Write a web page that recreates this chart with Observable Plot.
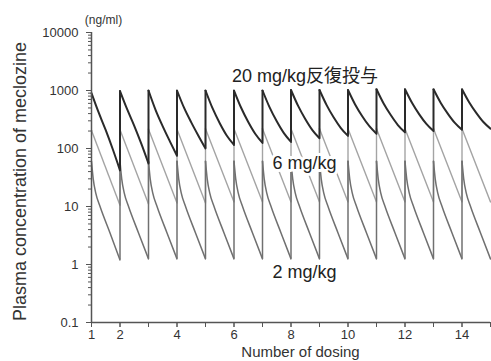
<!DOCTYPE html>
<html><head><meta charset="utf-8">
<script src="https://cdn.jsdelivr.net/npm/d3@7"></script>
<script src="https://cdn.jsdelivr.net/npm/@observablehq/plot@0.6"></script>
<style>
html,body{margin:0;padding:0;background:#fff;}
svg{display:block;}
</style>
</head><body>
<div id="chart"></div>
<script>
// Dosing times (number of dosing)
const doses = [1,2,3,4,5,6,7,8,9,10,11,12,13,14];
const xTickLabels = [1,2,4,6,8,10,12,14];
const xTickMarks = [1,2,3,4,5,6,7,8,9,10,11,12,13,14,15];
const yTickLabels = [0.1,1,10,100,1000,10000];
const yMinorSteps = [2,3,4,5,6,7,8,9];

// 20 mg/kg (ng/ml): peak at dose, then values at +0.25, +0.5, +0.75, trough at next dose
const offsets20 = [0, 0.25, 0.5, 0.75, 1];
const peak20   = [900, 980, 1000, 1000, 1000, 1000, 1000, 1020, 1020, 1020, 1050, 1050, 1050, 1050];
const q1_20    = [418, 476, 460, 500, 490, 504, 511, 542, 560, 575, 597, 607, 617, 627];
const q2_20    = [207, 246, 241, 282, 273, 287, 294, 323, 342, 360, 377, 388, 400, 411];
const q3_20    = [96, 120, 133, 166, 166, 178, 184, 208, 225, 242, 254, 265, 276, 286];
const trough20 = [42, 55, 75, 100, 115, 125, 130, 150, 165, 180, 190, 200, 210, 220];

// 6 mg/kg: log-linear decay from peak to trough
const offsets6 = [0, 1];
const peak6   = [205, 210, 215, 215, 218, 218, 220, 220, 220, 220, 220, 220, 220, 220];
const trough6 = [10.5, 11, 11.5, 11.5, 12, 12, 12, 12, 12, 12, 12, 12, 12, 12];

// 2 mg/kg: fast distribution phase then elimination
const offsets2 = [0, 0.06, 0.15, 0.3, 0.65, 1];
const peak2   = [60, 60, 60, 60, 60, 60, 60, 60, 60, 60, 60, 60, 60, 60];
const fastA2  = [30, 30, 30, 30, 30, 30, 30, 30, 30, 30, 30, 30, 30, 30];
const fastB2  = [17, 17, 17, 17, 17, 17, 17, 17, 17, 17, 17, 17, 17, 17];
const slowA2  = [10, 10, 10, 10, 10, 10, 10, 10, 10, 10, 10, 10, 10, 10];
const slowB2  = [3.5, 3.5, 3.5, 3.5, 3.5, 3.5, 3.5, 3.5, 3.5, 3.5, 3.5, 3.5, 3.5, 3.5];
const trough2 = [1.2, 1.25, 1.25, 1.25, 1.25, 1.25, 1.25, 1.25, 1.25, 1.25, 1.25, 1.25, 1.25, 1.25];

// annotations
const labels = [
  {text: "20 mg/kg反復投与", x: 8.49, y: 1743},
  {text: "6 mg/kg", x: 8.47, y: 55},
  {text: "2 mg/kg", x: 8.47, y: 0.728}
];

function cyclePoints(offsets, arrays) {
  const pts = [];
  doses.forEach((d, i) => {
    offsets.forEach((o, k) => pts.push({cycle: i, x: d + o, y: arrays[k][i]}));
  });
  return pts;
}
function jumps(troughs, peaks) {
  const out = [];
  for (let i = 0; i < doses.length - 1; i++) {
    out.push({x: doses[i + 1], y1: troughs[i], y2: peaks[i + 1]});
  }
  return out;
}

const data20 = cyclePoints(offsets20, [peak20, q1_20, q2_20, q3_20, trough20]);
const data6  = cyclePoints(offsets6, [peak6, trough6]);
const data2  = cyclePoints(offsets2, [peak2, fastA2, fastB2, slowA2, slowB2, trough2]);
const jump20 = jumps(trough20, peak20);
const jump6  = jumps(trough6, peak6);
const jump2  = jumps(trough2, peak2);

const yMinor = [];
yTickLabels.slice(0, -1).forEach(t => yMinorSteps.forEach(s => yMinor.push(+(t * s).toPrecision(3))));

const c20 = "#2a2a2a", c6 = "#a4a4a4", c2 = "#707070", axisC = "#555";

const chart = Plot.plot({
  width: 491,
  height: 361,
  marginLeft: 91,
  marginRight: 1,
  marginTop: 32,
  marginBottom: 39,
  style: {fontFamily: '"Liberation Sans", Arial, "Noto Sans CJK JP", sans-serif', fontSize: "13px", color: "#333", background: "white", overflow: "visible"},
  x: {type: "linear", domain: [1, 15], axis: null},
  y: {type: "log", domain: [0.1, 10000], axis: null},
  marks: [
    Plot.line(data6, {x: "x", y: "y", z: "cycle", stroke: c6, strokeWidth: 1.4}),
    Plot.ruleX(jump6, {x: "x", y1: "y1", y2: "y2", stroke: c6, strokeWidth: 1.4}),
    Plot.line(data2, {x: "x", y: "y", z: "cycle", curve: "monotone-x", stroke: c2, strokeWidth: 1.5}),
    Plot.ruleX(jump2, {x: "x", y1: "y1", y2: "y2", stroke: c2, strokeWidth: 1.5}),
    Plot.line(data20, {x: "x", y: "y", z: "cycle", curve: "monotone-x", stroke: c20, strokeWidth: 2}),
    Plot.ruleX(jump20, {x: "x", y1: "y1", y2: "y2", stroke: c20, strokeWidth: 2}),
    Plot.ruleX([1], {stroke: axisC, strokeWidth: 1.5}),
    Plot.ruleY([0.1], {stroke: axisC, strokeWidth: 1.5}),
    Plot.axisY(yTickLabels, {tickSize: 5, tickPadding: 8, tickFormat: d => String(d), stroke: axisC, fill: "#333", fontSize: 13, label: null}),
    Plot.axisY(yMinor, {tickSize: 3, tickFormat: () => "", stroke: axisC, label: null}),
    Plot.axisX(xTickMarks, {tickSize: 5, tickFormat: () => "", stroke: axisC, label: null}),
    Plot.axisX(xTickLabels, {tickSize: 5, tickPadding: 2, stroke: axisC, fill: "#333", fontSize: 13, label: null}),
    Plot.text(labels, {x: "x", y: "y", text: "text", fontSize: 18, fill: "#222", stroke: "white", strokeWidth: 6, paintOrder: "stroke"}),
    Plot.text(["(ng/ml)"], {frameAnchor: "top-left", textAnchor: "middle", lineAnchor: "middle", dx: 12, dy: -12, fontSize: 12, fill: "#333"}),
    Plot.text(["Plasma concentration of meclozine"], {frameAnchor: "left", textAnchor: "middle", lineAnchor: "middle", dx: -71, dy: 4, rotate: -90, fontSize: 18, fill: "#333"}),
    Plot.text(["Number of dosing"], {frameAnchor: "bottom", textAnchor: "middle", lineAnchor: "middle", dx: 9.5, dy: 30, fontSize: 15, fill: "#333"})
  ]
});
document.getElementById("chart").appendChild(chart);
</script>
</body></html>
